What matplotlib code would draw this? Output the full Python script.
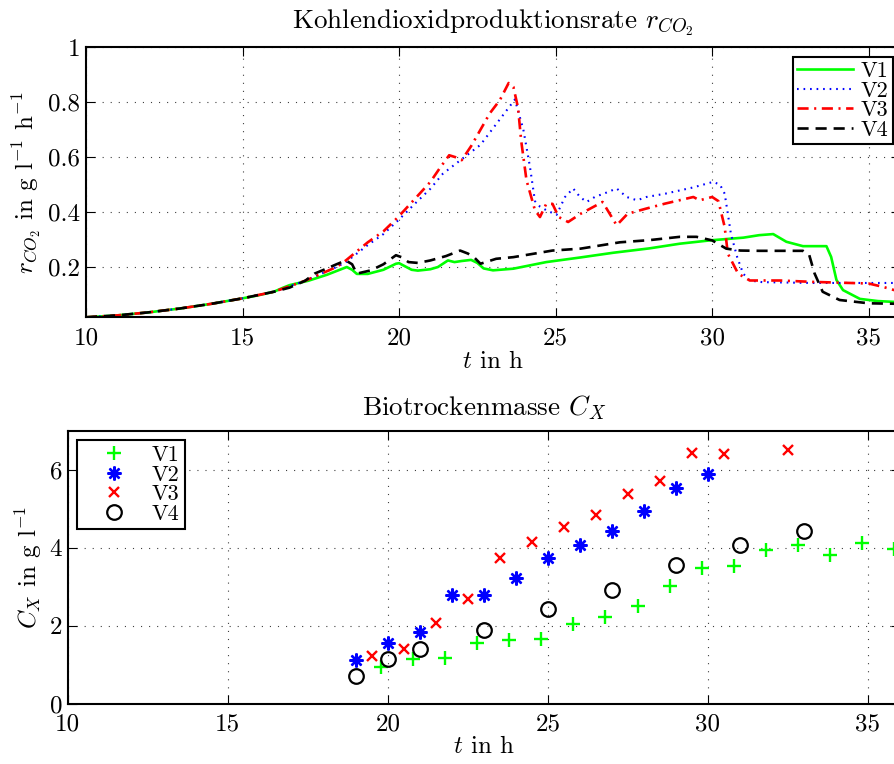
import matplotlib
matplotlib.use("Agg")
import matplotlib.pyplot as plt

plt.rcParams["font.family"] = "cmr10"
plt.rcParams["mathtext.fontset"] = "cm"
plt.rcParams["axes.unicode_minus"] = False
plt.rcParams["lines.scale_dashes"] = False

# ---------------- CO2 production rate (g/l/h) over time (h) ----------------
t_v1 = [10, 11, 12, 13, 14, 15, 15.5, 16, 16.3, 16.5, 17.1, 17.7, 18.33, 18.5, 18.65,
        19.0, 19.5, 19.9, 20.0, 20.4, 20.6, 21.0, 21.24, 21.56, 21.77, 22.0, 22.3, 22.5,
        22.7, 23.0, 23.65, 24.7, 25.8, 26.84, 28.0, 28.97, 29.93, 31.0, 31.5, 31.95,
        32.37, 32.9, 33.65, 33.8, 33.97, 34.18, 34.72, 35.3, 36.0]
r_v1 = [0.017, 0.024, 0.035, 0.049, 0.066, 0.086, 0.097, 0.110, 0.125, 0.134, 0.150,
        0.172, 0.200, 0.190, 0.175, 0.175, 0.190, 0.212, 0.214, 0.190, 0.187, 0.192,
        0.200, 0.224, 0.218, 0.222, 0.226, 0.215, 0.195, 0.188, 0.194, 0.218, 0.235,
        0.252, 0.268, 0.285, 0.297, 0.307, 0.316, 0.320, 0.292, 0.276, 0.276, 0.237,
        0.153, 0.116, 0.084, 0.076, 0.072]

t_v2 = [10, 11, 12, 13, 14, 15, 16, 17, 17.5, 18.0, 18.3, 19.0, 19.5, 19.97, 20.5, 21.0,
        21.4, 21.8, 22.2, 22.6, 23.2, 23.7, 23.97, 24.18, 24.34, 24.5, 24.7, 25.03, 25.3,
        25.56, 25.78, 25.99, 26.25, 26.6, 26.95, 27.27, 27.6, 27.9, 28.5, 29.4, 30.03,
        30.25, 30.4, 30.5, 30.6, 30.8, 30.99, 31.2, 31.6, 33.2, 36.0]
r_v2 = [0.017, 0.024, 0.035, 0.049, 0.066, 0.086, 0.110, 0.150, 0.175, 0.200, 0.218,
        0.280, 0.320, 0.370, 0.430, 0.485, 0.540, 0.575, 0.610, 0.645, 0.735, 0.810,
        0.700, 0.565, 0.440, 0.420, 0.407, 0.390, 0.455, 0.486, 0.455, 0.437, 0.455,
        0.470, 0.486, 0.455, 0.443, 0.455, 0.467, 0.490, 0.510, 0.500, 0.467, 0.395,
        0.320, 0.236, 0.176, 0.151, 0.145, 0.142, 0.142]

t_v3 = [10, 11, 12, 13, 14, 15, 16, 17, 17.5, 18.0, 18.3, 19.0, 19.5, 19.97, 20.6, 21.0,
        21.3, 21.6, 21.8, 22.0, 22.3, 22.6, 22.9, 23.22, 23.5, 23.65, 23.8, 23.9, 24.07,
        24.34, 24.5, 24.7, 24.9, 25.1, 25.4, 25.8, 26.5, 26.95, 27.3, 27.9, 28.5, 29.4,
        29.6, 30.0, 30.2, 30.4, 30.5, 30.83, 31.2, 32.16, 33.2, 35.0, 35.45, 36.0]
r_v3 = [0.017, 0.024, 0.035, 0.049, 0.066, 0.086, 0.110, 0.150, 0.175, 0.200, 0.224,
        0.290, 0.330, 0.382, 0.460, 0.510, 0.560, 0.607, 0.600, 0.589, 0.640, 0.700,
        0.760, 0.808, 0.870, 0.856, 0.780, 0.660, 0.516, 0.407, 0.382, 0.430, 0.430,
        0.382, 0.364, 0.394, 0.437, 0.352, 0.394, 0.413, 0.431, 0.455, 0.443, 0.455,
        0.440, 0.346, 0.249, 0.176, 0.151, 0.151, 0.146, 0.140, 0.128, 0.110]

t_v4 = [10, 11, 12, 13, 14, 15, 16, 16.5, 17, 17.3, 17.7, 18.0, 18.3, 18.5, 18.65, 19.1,
        19.5, 19.9, 20.1, 20.3, 20.6, 21.0, 21.5, 21.95, 22.2, 22.4, 22.6, 23.1, 23.65,
        24.9, 25.8, 27.05, 28.0, 28.97, 29.5, 30.0, 30.45, 30.9, 31.5, 32.9, 33.1, 33.27,
        33.53, 34.07, 35.0, 36.0]
r_v4 = [0.017, 0.024, 0.035, 0.049, 0.066, 0.086, 0.110, 0.125, 0.150, 0.176, 0.195,
        0.210, 0.224, 0.210, 0.176, 0.188, 0.210, 0.243, 0.235, 0.218, 0.215, 0.224,
        0.240, 0.260, 0.249, 0.235, 0.212, 0.230, 0.236, 0.260, 0.267, 0.290, 0.298,
        0.310, 0.310, 0.297, 0.267, 0.260, 0.259, 0.259, 0.244, 0.177, 0.110, 0.080,
        0.068, 0.066]

# ---------------- dry biomass (g/l) samples ----------------
ts_v1 = [19.8, 20.8, 21.8, 22.8, 23.8, 24.8, 25.8, 26.8, 27.8, 28.8, 29.8, 30.8, 31.8,
         32.8, 33.8, 34.8, 35.8]
cx_v1 = [0.95, 1.16, 1.19, 1.56, 1.63, 1.67, 2.04, 2.23, 2.52, 3.03, 3.48, 3.52, 3.94,
         4.07, 3.82, 4.12, 3.97]
ts_v2 = [19, 20, 21, 22, 23, 24, 25, 26, 27, 28, 29, 30]
cx_v2 = [1.12, 1.55, 1.84, 2.78, 2.78, 3.23, 3.74, 4.08, 4.43, 4.93, 5.54, 5.88]
ts_v3 = [19.5, 20.5, 21.5, 22.5, 23.5, 24.5, 25.5, 26.5, 27.5, 28.5, 29.5, 30.5, 32.5]
cx_v3 = [1.23, 1.42, 2.08, 2.68, 3.74, 4.14, 4.54, 4.83, 5.38, 5.72, 6.43, 6.39, 6.49]
ts_v4 = [19, 20, 21, 23, 25, 27, 29, 31, 33]
cx_v4 = [0.71, 1.14, 1.42, 1.89, 2.44, 2.92, 3.57, 4.08, 4.43]

series_names = ["V1", "V2", "V3", "V4"]
x_ticks = [10, 15, 20, 25, 30, 35]
r_ticks = [0.2, 0.4, 0.6, 0.8, 1.0]
r_tick_labels = ["0.2", "0.4", "0.6", "0.8", "1"]
cx_ticks = [0, 2, 4, 6]

FS = 18       # tick and axis labels
FS_T = 19.5   # titles
FS_L = 16     # legend entries
W, H = 895, 764

fig = plt.figure(figsize=(W / 100, H / 100), dpi=100)
ax1 = fig.add_axes([86 / W, (H - 317.3) / H, (900 - 86) / W, (317.3 - 47.3) / H])
ax2 = fig.add_axes([67.7 / W, (H - 704) / H, (900 - 67.7) / W, (704 - 430.5) / H])


def style_axes(ax):
    ax.set_xlim(10, 36)
    ax.set_xticks(x_ticks)
    ax.set_xticklabels([str(v) for v in x_ticks])
    ax.tick_params(which="both", direction="in", top=True, right=True,
                   length=6.5, width=0.8, labelsize=FS)
    ax.tick_params(axis="x", pad=7)
    ax.tick_params(axis="y", pad=4)
    ax.grid(True, linestyle=(0, (0.8, 5)), linewidth=0.8, color="0.25")
    for s in ax.spines.values():
        s.set_linewidth(1.5)


lw = 1.9
ax1.plot(t_v1, r_v1, color=(0, 1, 0), lw=lw, linestyle="-", label=series_names[0])
ax1.plot(t_v2, r_v2, color=(0, 0, 1), lw=1.5, linestyle=(0, (1.2, 3.5)), label=series_names[1])
ax1.plot(t_v3, r_v3, color=(1, 0, 0), lw=lw, linestyle=(0, (8, 4, 1.5, 4)), label=series_names[2])
ax1.plot(t_v4, r_v4, color="black", lw=lw, linestyle=(0, (8, 5)), label=series_names[3])
style_axes(ax1)
ax1.set_ylim(0.017, 1.0)
ax1.set_yticks(r_ticks)
ax1.set_yticklabels(r_tick_labels)
ax1.set_title(r"Kohlendioxidproduktionsrate $r_{CO_2}$", fontsize=FS_T, pad=14)
ax1.set_xlabel(r"$t$ in h", fontsize=FS, labelpad=1)
ax1.set_ylabel(r"$r_{CO_2}$ in g l$^{-1}$ h$^{-1}$", fontsize=FS, labelpad=4)
leg1 = ax1.legend(loc="upper right", bbox_to_anchor=(893 / W, 1 - 57 / H),
                  bbox_transform=fig.transFigure, fontsize=FS_L, frameon=True,
                  fancybox=False, framealpha=1, edgecolor="black", borderaxespad=0,
                  handlelength=2.5, handletextpad=0.35, labelspacing=0.0,
                  borderpad=0.2)
leg1.get_frame().set_linewidth(1.5)

ms = 10
ax2.plot(ts_v1, cx_v1, linestyle="none", marker="+", ms=ms, mew=1.7,
         color=(0, 1, 0), label=series_names[0])
ax2.plot(ts_v2, cx_v2, linestyle="none", marker=(8, 2, 0), ms=ms, mew=1.7,
         color=(0, 0, 1), label=series_names[1])
ax2.plot(ts_v3, cx_v3, linestyle="none", marker="x", ms=7.5, mew=1.7,
         color=(1, 0, 0), label=series_names[2])
ax2.plot(ts_v4, cx_v4, linestyle="none", marker="o", ms=10.5, mew=1.6,
         color="black", mfc="none", label=series_names[3])
style_axes(ax2)
ax2.set_ylim(0, 7)
ax2.set_yticks(cx_ticks)
ax2.set_yticklabels([str(v) for v in cx_ticks])
ax2.set_title(r"Biotrockenmasse $C_X$", fontsize=FS_T, pad=11)
ax2.set_xlabel(r"$t$ in h", fontsize=FS, labelpad=0)
ax2.set_ylabel(r"$C_X$ in g l$^{-1}$", fontsize=FS, labelpad=4)
leg2 = ax2.legend(loc="upper left", bbox_to_anchor=(77 / W, 1 - 440 / H),
                  bbox_transform=fig.transFigure, fontsize=FS_L, frameon=True,
                  fancybox=False, framealpha=1, edgecolor="black", borderaxespad=0,
                  handlelength=2.8, handletextpad=0.3, labelspacing=0.0,
                  borderpad=0.25, numpoints=1)
leg2.get_frame().set_linewidth(1.5)

fig.savefig("out.png", dpi=100)
